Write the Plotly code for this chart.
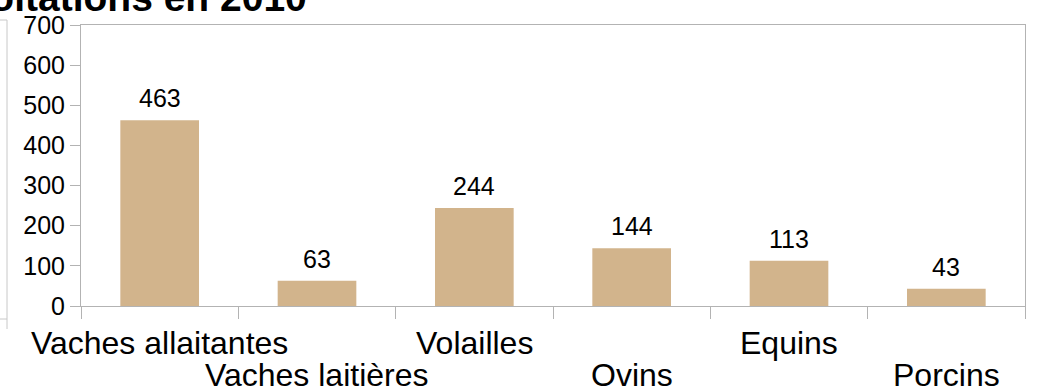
import plotly.graph_objects as go

# Livestock categories and number of farms per category
categories = ["Vaches allaitantes", "Vaches laitières", "Volailles", "Ovins", "Equins", "Porcins"]
farms = [463, 63, 244, 144, 113, 43]
y_ticks = [0, 100, 200, 300, 400, 500, 600, 700]

title_text = "Nombre d'exploitations en 2010"

W, H = 1041, 392
ML, MR, MT, MB = 81, 16, 25, 86
PW, PH = W - ML - MR, H - MT - MB

BAR = "#d2b48c"
AXIS = "#b3b3b3"
FONT = "Liberation Sans, Arial, sans-serif"


def px_x(p):
    return (p - ML) / PW


def px_y(p):
    return (H - MB - p) / PH


fig = go.Figure(
    go.Bar(
        x=categories,
        y=farms,
        marker=dict(color=BAR, line=dict(width=0)),
        cliponaxis=False,
        hoverinfo="x+y",
    )
)

annotations = []
# value labels above each bar
for c, v in zip(categories, farms):
    annotations.append(dict(
        x=c, y=v, xref="x", yref="y", text=str(v), showarrow=False,
        yanchor="bottom", yshift=6, font=dict(size=25, color="black", family=FONT),
    ))
# category labels, staggered on two rows
for i, c in enumerate(categories):
    annotations.append(dict(
        x=c, y=0, xref="x", yref="paper", text=c, showarrow=False,
        yanchor="top", yshift=-17 if i % 2 == 0 else -49,
        font=dict(size=32, color="black", family=FONT),
    ))
# chart title, partly outside the page
annotations.append(dict(
    x=px_x(309), y=px_y(21), xref="paper", yref="paper", text="<b>" + title_text + "</b>",
    showarrow=False, xanchor="right", yanchor="bottom",
    font=dict(size=39, color="black", family=FONT),
))

# frame of the neighbouring panel on the left edge
line_style = dict(color="#c8c8c8", width=1)
shapes = [
    dict(type="line", xref="paper", yref="paper", x0=px_x(7), x1=px_x(7),
         y0=px_y(20), y1=px_y(329), line=line_style),
    dict(type="line", xref="paper", yref="paper", x0=px_x(0), x1=px_x(7),
         y0=px_y(20), y1=px_y(20), line=line_style),
    dict(type="line", xref="paper", yref="paper", x0=px_x(0), x1=px_x(7),
         y0=px_y(319), y1=px_y(319), line=line_style),
]

fig.update_layout(
    width=W, height=H,
    margin=dict(l=ML, r=MR, t=MT, b=MB, pad=0, autoexpand=False),
    paper_bgcolor="white", plot_bgcolor="white",
    bargap=0.5,
    showlegend=False,
    annotations=annotations,
    shapes=shapes,
    font=dict(family=FONT, color="black"),
)
fig.update_xaxes(
    type="category", range=[-0.5, len(categories) - 0.5], autorange=False,
    showticklabels=False, tickson="boundaries",
    ticks="outside", ticklen=12, tickcolor=AXIS, tickwidth=1,
    showline=True, linecolor=AXIS, linewidth=1, mirror=True,
    showgrid=False, zeroline=False, automargin=False,
)
fig.update_yaxes(
    range=[0, 700], autorange=False, tickvals=y_ticks, ticks="outside", ticklen=10,
    tickcolor=AXIS, tickwidth=1, showline=True, linecolor=AXIS, linewidth=1,
    mirror=True, showgrid=False, zeroline=False, automargin=False,
    tickfont=dict(size=25, color="black", family=FONT),
)

fig.write_html("out.html")
